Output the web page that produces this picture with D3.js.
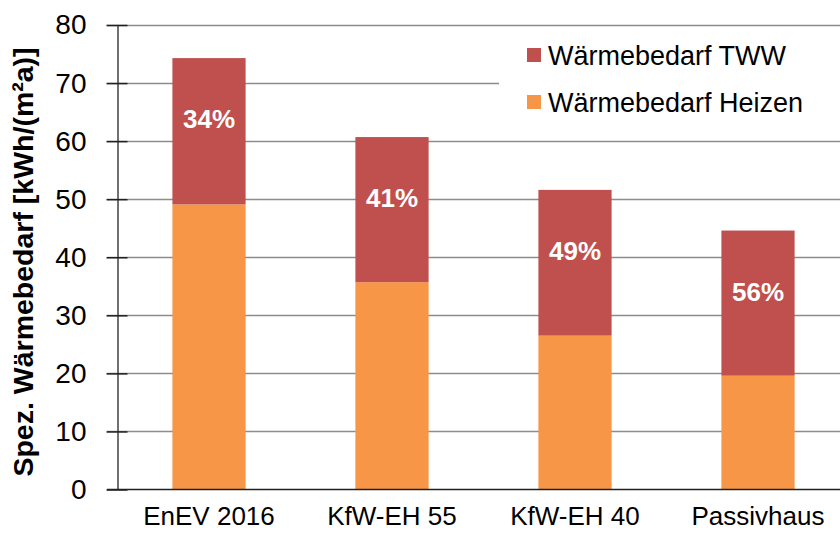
<!DOCTYPE html>
<html><head><meta charset="utf-8">
<script src="https://cdn.jsdelivr.net/npm/d3@7"></script>
<style>body{margin:0;background:#fff}svg{display:block}text{font-family:"Liberation Sans",Arial,sans-serif}</style>
</head><body><svg id="c" width="840" height="538"></svg>
<script>
const categories = ["EnEV 2016", "KfW-EH 55", "KfW-EH 40", "Passivhaus"];
const heizen = [49.1, 35.7, 26.5, 19.6];
const tww = [25.2, 25.0, 25.1, 25.0];
const shareLabels = ["34%", "41%", "49%", "56%"];
const seriesNames = ["Wärmebedarf TWW", "Wärmebedarf Heizen"];
const yTicks = [0, 10, 20, 30, 40, 50, 60, 70, 80];
const colors = {heizen: "#F79646", tww: "#C0504D"};

const svg = d3.select("#c");
const x0 = 117.5, x1 = 849.5, yBottom = 489.5, yTop = 25;
const x = d3.scaleBand().domain(categories).range([x0, x1]).paddingInner(0.6).paddingOuter(0.3);
const y = d3.scaleLinear().domain([0, 80]).range([yBottom, yTop]);

// gridlines
svg.append("g").selectAll("line").data(yTicks.filter(d => d > 0)).join("line")
  .attr("x1", 107).attr("x2", 840).attr("y1", d => Math.round(y(d)) + 0.5).attr("y2", d => Math.round(y(d)) + 0.5)
  .attr("stroke", "#8c8c8c").attr("stroke-width", 1.3);

// bars
const data = categories.map((c, i) => ({c, h: heizen[i], t: tww[i], lab: shareLabels[i]}));
svg.append("g").selectAll("rect").data(data).join("rect")
  .attr("x", d => x(d.c)).attr("width", x.bandwidth())
  .attr("y", d => y(d.h)).attr("height", d => y(0) - y(d.h)).attr("fill", colors.heizen);
svg.append("g").selectAll("rect").data(data).join("rect")
  .attr("x", d => x(d.c)).attr("width", x.bandwidth())
  .attr("y", d => y(d.h + d.t)).attr("height", d => y(d.h) - y(d.h + d.t)).attr("fill", colors.tww);

// percentage labels
svg.append("g").selectAll("text").data(data).join("text")
  .attr("x", d => x(d.c) + x.bandwidth() / 2).attr("y", d => y(d.h + d.t) + 70)
  .attr("text-anchor", "middle").attr("fill", "#fff").attr("font-weight", "bold").attr("font-size", 26)
  .text(d => d.lab);

// y axis
const yAxis = d3.axisLeft(y).tickValues(yTicks).tickSizeInner(0).tickSizeOuter(0).tickPadding(0);
const gy = svg.append("g").attr("transform", `translate(${x0},0)`).call(yAxis);
gy.select(".domain").attr("stroke", "#404040").attr("stroke-width", 1.5);
gy.selectAll(".tick line").attr("x1", -11).attr("x2", 10).attr("stroke", "#202020").attr("stroke-width", 1.5);
gy.selectAll(".tick text").attr("x", -31).attr("font-size", 28).attr("fill", "#000").attr("font-family", "Liberation Sans, Arial, sans-serif");

// baseline
svg.append("line").attr("x1", 107).attr("x2", 840).attr("y1", y(0)).attr("y2", y(0)).attr("stroke", "#202020").attr("stroke-width", 1.5);

// x axis labels
const xAxis = d3.axisBottom(x).tickSize(0).tickPadding(0);
const gx = svg.append("g").attr("transform", `translate(0,${yBottom})`).call(xAxis);
gx.select(".domain").remove();
gx.selectAll(".tick text").attr("dy", 0).attr("y", 35).attr("font-size", 26).attr("fill", "#000").attr("font-family", "Liberation Sans, Arial, sans-serif");

// y title
svg.append("text").attr("transform", "translate(33,262) rotate(-90)").attr("text-anchor", "middle")
  .attr("font-weight", "bold").attr("font-size", 28.5).attr("fill", "#000").text("Spez. Wärmebedarf [kWh/(m²a)]");

// legend
const lg = svg.append("g");
lg.append("rect").attr("x", 499).attr("y", 30).attr("width", 341).attr("height", 95).attr("fill", "#fff");
const lcol = [colors.tww, colors.heizen];
seriesNames.forEach((n, i) => {
  lg.append("rect").attr("x", 527).attr("y", 48 + i * 47).attr("width", 14).attr("height", 14).attr("fill", lcol[i]);
  lg.append("text").attr("x", 548).attr("y", 65 + i * 47).attr("font-size", 27).attr("fill", "#000").text(n);
});
</script></body></html>
